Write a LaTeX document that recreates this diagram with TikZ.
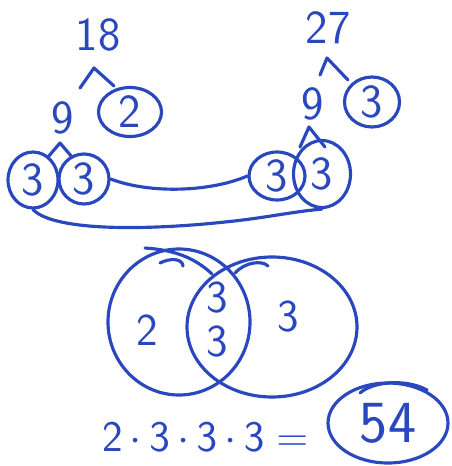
\documentclass[tikz,border=0pt]{standalone}
\usepackage{amsmath}
\usepackage{xcolor}
\usepackage{tikz}
\usetikzlibrary{positioning,shapes.geometric,calc}
\definecolor{pen}{RGB}{42,72,190}

\begin{document}
\begin{tikzpicture}[x=0.02cm, y=-0.02cm, line width=1.8pt, line cap=round, line join=round, draw=pen, text=pen, num/.style={font=\fontsize{27}{30}\selectfont\sffamily, inner sep=1pt}, small/.style={font=\fontsize{26}{30}\selectfont\sffamily, inner sep=1pt}, ring/.style={num, draw, ellipse, inner sep=0pt}]
\useasboundingbox (0,0) rectangle (451,466);
% factor tree of 18
\node[num] (t18) at (98,35) {18};
\node[num] (l9) at (63,118) {9};
\node[ring, minimum width=1.26cm, minimum height=0.98cm] (l2) at (130,112) {2};
\node[ring, minimum width=1.0cm, minimum height=1.12cm] (la) at (33,180) {3};
\node[ring, minimum width=1.0cm, minimum height=1.0cm] (lb) at (84,179) {3};
\coordinate (k1) at (94,68); \coordinate (k2) at (60,143);
\draw ($(k1)+(-14,20)$) -- (k1) -- ($(k1)+(20,18)$);
\draw ($(k2)+(-12,14)$) -- (k2) -- ($(k2)+(12,14)$);
% factor tree of 27
\node[num] (t27) at (328,28) {27};
\node[num] (r9) at (313,104) {9};
\node[ring, minimum width=1.1cm, minimum height=1.0cm] (r3) at (372,102) {3};
\node[ring, minimum width=1.12cm, minimum height=0.96cm] (ra) at (277,176) {3};
\node[ring, minimum width=1.14cm, minimum height=1.34cm] (rb) at (322,174) {3};
\coordinate (k3) at (327,58); \coordinate (k4) at (309,127);
\draw ($(k3)+(-7,17)$) -- (k3) -- ($(k3)+(21,22)$);
\draw ($(k4)+(-9,20)$) -- (k4) -- ($(k4)+(16,20)$);
% matching pairs
\draw (lb.east) .. controls (150,194) and (210,192) .. (ra.west);
\draw (la.south) .. controls (55,232) and (150,230) .. (225,222) .. controls (265,218) and (290,212) .. (rb.south);
% venn diagram
\draw (179,322) ellipse [x radius=71, y radius=73];
\draw (272,327) ellipse [x radius=85, y radius=70];
\draw (145,248) .. controls (175,250) and (195,258) .. (212,274);
\draw (160,263) .. controls (170,258) and (182,258) .. (183,266);
\draw (235,273) .. controls (245,262) and (262,260) .. (268,266);
\node[small] (v2) at (147,330) {2};
\node[small] (v3a) at (217,298) {3};
\node[small] (v3b) at (217,342) {3};
\node[small] (v3c) at (288,317) {3};
% product
\node[small] (eq) at (205,437) {$\mathsf{2\mkern-1mu\cdot\mkern-1mu3\mkern-1mu\cdot\mkern-1mu3\mkern-1mu\cdot\mkern-1mu3=}$};
\node[ring, font=\fontsize{34}{38}\selectfont\sffamily, minimum width=2.4cm, minimum height=1.6cm] (r54) at (388,423) {54};
\draw (360,393) .. controls (372,382) and (405,378) .. (427,390);
\end{tikzpicture}
\end{document}
